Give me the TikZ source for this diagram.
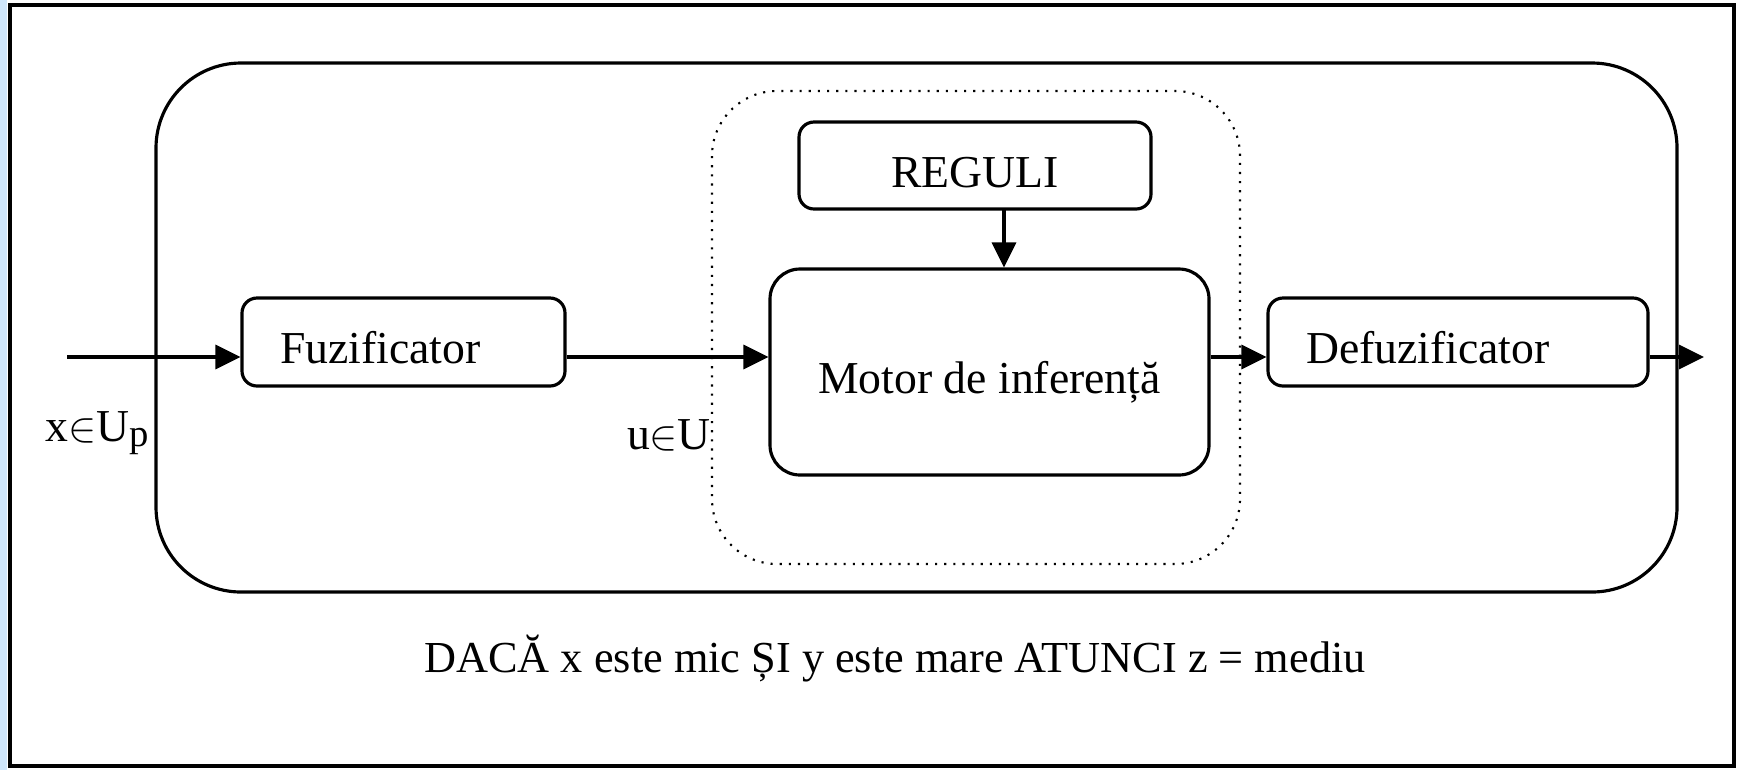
\documentclass[tikz,border=0pt]{standalone}
\usepackage{fontspec}
\setmainfont{Liberation Serif}
\usepackage{tikz}
\usetikzlibrary{arrows.meta}
\definecolor{stripblue}{HTML}{CFE6FB}

\begin{document}
\begin{tikzpicture}[line width=.9pt,
    font=\fontsize{13}{15}\selectfont,
    >={Triangle[length=.25cm,width=.24cm]},
    blok/.style={draw,rectangle,rounded corners=.15cm,align=left,inner xsep=.38cm,minimum height=.88cm,text height=12.3pt,text depth=0pt}]
      \useasboundingbox (0,0) rectangle (17.44,-7.70);
      \fill[stripblue] (0,0) rectangle (0.07,-7.70);
      \draw[line width=1pt] (0.10,-0.05) rectangle (17.34,-7.66);
      \draw[rounded corners=.85cm] (1.56,-0.63) rectangle (16.77,-5.92);
      \draw[dotted,line width=.6pt,rounded corners=.65cm] (7.12,-0.91) rectangle (12.40,-5.64);
      \draw (9.75,-1.655) node [blok,align=center,minimum width=3.52cm,minimum height=.87cm] (reg) {REGULI};
      \draw (9.895,-3.72) node [draw,rectangle,rounded corners=.3cm,minimum width=4.39cm,minimum height=2.06cm,text height=12pt,text depth=0pt] (mot) {Motor de inferență};
      \draw (4.035,-3.42) node [blok,text width=2.47cm] (fuz) {Fuzificator};
      \draw (14.58,-3.42) node [blok,text width=3.04cm] (defuz) {Defuzificator};
      \coordinate (in) at (0.67,-3.57);
      \coordinate (out) at (17.04,-3.57);
      \coordinate (r) at (10.04,-2.09);
      \draw[->]
        (in) -- (in -| fuz.west);
      \draw[->]
        (in -| fuz.east) -- (in -| mot.west);
      \draw[->]
        (in -| mot.east) -- (in -| defuz.west);
      \draw[->]
        (in -| defuz.east) -- (out);
      \draw[->]
        (r) -- (r |- mot.north);
      \node (xu) at (0.97,-4.33) {x$\in$U\raisebox{-.25ex}{\fontsize{11}{13}\selectfont p}};
      \node (uu) at (6.69,-4.35) {u$\in$U};
      \node[font=\fontsize{12.6}{15}\selectfont] (rule) at (8.95,-6.59) {DACĂ x este mic ȘI y este mare ATUNCI z = mediu};
    \end{tikzpicture}
\end{document}
